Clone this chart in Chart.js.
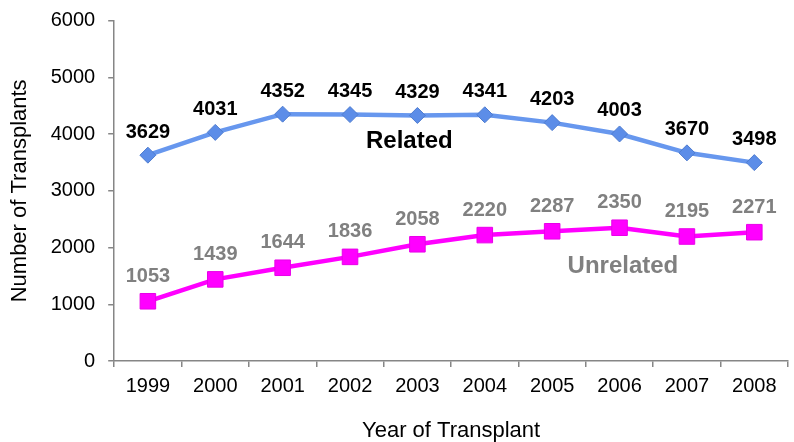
<!DOCTYPE html>
<html>
<head>
<meta charset="utf-8">
<script src="https://cdn.jsdelivr.net/npm/chart.js@4/dist/chart.umd.min.js"></script>
<style>
  html, body { margin: 0; padding: 0; background: #fff; overflow: hidden; }
  #wrap { position: absolute; left: 0; top: 0; width: 800px; height: 442px; }
</style>
</head>
<body>
<div id="wrap"><canvas id="c" width="800" height="442"></canvas></div>
<script>
const years = ['1999','2000','2001','2002','2003','2004','2005','2006','2007','2008'];
const related = [3629, 4031, 4352, 4345, 4329, 4341, 4203, 4003, 3670, 3498];
const unrelated = [1053, 1439, 1644, 1836, 2058, 2220, 2287, 2350, 2195, 2271];
const yTicks = [0, 1000, 2000, 3000, 4000, 5000, 6000];
const seriesLabels = ['Related', 'Unrelated'];
const seriesLabelAt = [[3.88, 3880], [7.05, 1663]];

const FONT = "'Liberation Sans', Arial, sans-serif";
const AXIS = '#868686';

const labelPlugin = {
  id: 'labels',
  afterDatasetsDraw(chart) {
    const ctx = chart.ctx;
    const xs = chart.scales.x, ys = chart.scales.y;
    ctx.save();
    ctx.textAlign = 'center';
    ctx.textBaseline = 'middle';
    chart.data.datasets.forEach((ds, di) => {
      const meta = chart.getDatasetMeta(di);
      ctx.font = 'bold 20px ' + FONT;
      ctx.fillStyle = di === 0 ? '#000000' : '#808080';
      const off = di === 0 ? 23 : 25;
      meta.data.forEach((pt, i) => {
        ctx.fillText(String(ds.data[i]), pt.x, pt.y - off);
      });
      ctx.font = 'bold 24px ' + FONT;
      const pos = seriesLabelAt[di];
      ctx.fillText(seriesLabels[di], xs.getPixelForValue(pos[0]), ys.getPixelForValue(pos[1]));
    });
    ctx.restore();
  }
};

new Chart(document.getElementById('c'), {
  type: 'line',
  data: {
    labels: years,
    datasets: [
      {
        label: seriesLabels[0],
        data: related,
        borderColor: '#6797EE',
        borderWidth: 4.5,
        pointStyle: 'rectRot',
        pointRadius: 8,
        pointBackgroundColor: '#5C8DE8',
        pointBorderColor: '#4E7CCF',
        pointBorderWidth: 1,
        tension: 0
      },
      {
        label: seriesLabels[1],
        data: unrelated,
        borderColor: '#FF00FF',
        borderWidth: 4.5,
        pointStyle: 'rect',
        pointRadius: 11,
        pointBackgroundColor: '#FF00FF',
        pointBorderColor: '#E800E8',
        pointBorderWidth: 1,
        tension: 0
      }
    ]
  },
  options: {
    responsive: false,
    animation: false,
    layout: { padding: { top: 20.7, right: 0, bottom: 0, left: 0 } },
    plugins: { legend: { display: false }, tooltip: { enabled: false } },
    scales: {
      x: {
        type: 'category',
        offset: true,
        grid: { offset: true, drawOnChartArea: false, drawTicks: true, tickLength: 6, color: AXIS, lineWidth: 1.5 },
        border: { color: AXIS, width: 1.5 },
        ticks: { color: '#000', font: { family: FONT, size: 20 }, padding: 7, maxRotation: 0, autoSkip: false },
        title: { display: true, text: 'Year of Transplant', color: '#000', font: { family: FONT, size: 22 }, padding: { top: 12.6, bottom: -2 } }
      },
      y: {
        min: 0, max: 6000,
        afterBuildTicks(scale) { scale.ticks = yTicks.map(v => ({ value: v })); },
        afterFit(scale) { scale.paddingTop = 0; scale.paddingBottom = 0; },
        grid: { drawOnChartArea: false, drawTicks: true, tickLength: 6, color: AXIS, lineWidth: 1.5 },
        border: { color: AXIS, width: 1.5 },
        ticks: { color: '#000', font: { family: FONT, size: 20 }, padding: 13, callback: (v) => String(v) },
        title: { display: true, text: 'Number of Transplants', color: '#000', font: { family: FONT, size: 22 }, padding: { top: 6.8, bottom: 4.5 } }
      }
    }
  },
  plugins: [labelPlugin]
});
</script>
</body>
</html>
